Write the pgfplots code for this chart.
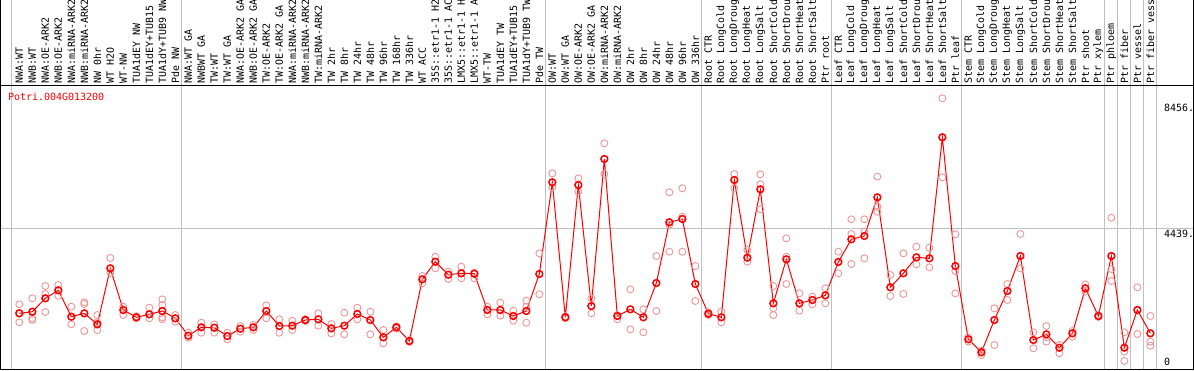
\documentclass[border=0pt]{standalone}
\usepackage{fontspec}
\setmonofont{DejaVu Sans Mono}
\usepackage{pgfplots}
\pgfplotsset{compat=1.18}
\definecolor{rep}{RGB}{238,150,150}
\definecolor{sep}{RGB}{192,192,192}
\begin{document}
\begin{tikzpicture}[x=1bp,y=1bp]
\useasboundingbox (0,0) rectangle (1194,370);
\foreach \k in {-0.62,12.5,40.5,52.5,62.5,72.5,83.5,84.5,85.5,86.5,87.5} {
  \draw[sep, line width=1bp] ({19.3+13*\k},1) -- ({19.3+13*\k},370);
}
\begin{axis}[at={(0.5bp,0.5bp)}, anchor=south west, scale only axis,
  width=1193bp, height=284bp,
  xmin=-1.4462, xmax=90.3231, ymin=-83, ymax=9013,
  axis line style={black, line width=1bp},
  xtick={0,...,87},
  xticklabels={NWA:WT,NWB:WT,NWA:OE-ARK2,NWB:OE-ARK2,NWA:miRNA-ARK2,NWB:miRNA-ARK2,NW 0hr,WT H2O,WT-NW,TUA1dEY NW,TUA1dEY+TUB15,TUA1dY+TUB9 NW,Pde NW,
  NWA:WT GA,NWBWT GA,TW:WT,TW:WT GA,NWA:OE-ARK2 GA,NWB:OE-ARK2 GA,TW:OE-ARK2,TW:OE-ARK2 GA,NWA:miRNA-ARK2,NWB:miRNA-ARK2,TW:miRNA-ARK2,TW 2hr,TW 8hr,TW 24hr,TW 48hr,TW 96hr,TW 168hr,TW 336hr,WT ACC,35S::etr1-1 H2,35S::etr1-1 AC,LMX5::etr1-1 H,LMX5::etr1-1 A,WT-TW,TUA1dEY TW,TUA1dEY+TUB15,TUA1dY+TUB9 TW,Pde TW,
  OW:WT,OW:WT GA,OW:OE-ARK2,OW:OE-ARK2 GA,OW:miRNA-ARK2,OW:miRNA-ARK2,OW 2hr,OW 8hr,OW 24hr,OW 48hr,OW 96hr,OW 336hr,
  Root CTR,Root LongCold,Root LongDroug,Root LongHeat,Root LongSalt,Root ShortCold,Root ShortDrou,Root ShortHeat,Root ShortSalt,Ptr root,
  Leaf CTR,Leaf LongCold,Leaf LongDroug,Leaf LongHeat,Leaf LongSalt,Leaf ShortCold,Leaf ShortDrou,Leaf ShortHeat,Leaf ShortSalt,Ptr leaf,
  Stem CTR,Stem LongCold,Stem LongDroug,Stem LongHeat,Stem LongSalt,Stem ShortCold,Stem ShortDrou,Stem ShortHeat,Stem ShortSalt,Ptr shoot,Ptr xylem,
  Ptr phloem,Ptr fiber,Ptr vessel,Ptr fiber vess},
  xticklabel pos=upper,
  xticklabel style={rotate=90, anchor=west, inner sep=0pt, font=\fontsize{10}{10}\selectfont\ttfamily},
  xticklabel shift=2bp,
  ytick={4439}, yticklabels={}, ymajorgrids, grid style={sep, line width=1bp},
  tick style={draw=none},
  clip=false]
\addplot[only marks, mark=o, mark size=3.5bp, color=rep, mark options={line width=0.9bp}] coordinates {
(0,2005)(0,1429)(0,1717)
(1,2197)(1,1557)(1,1502)
(2,2591)(2,2335)(2,1758)
(3,2623)(3,2280)
(4,1928)(4,1364)
(5,2069)(5,2015)(5,1150)
(6,1662)(6,1182)(6,1429)
(7,3488)(7,3017)
(8,1928)(8,1662)
(9,1620)(9,1560)
(10,1896)(10,1557)
(11,2165)(11,1983)(11,1589)(11,1530)
(12,1662)(12,1448)
(13,1096)(13,935)
(14,1416)(14,1096)
(15,1364)(15,1096)
(16,1096)(16,884)
(17,1310)(17,1128)
(18,1342)(18,1182)
(19,1973)(19,1557)
(20,1525)(20,1096)
(21,1480)(21,1182)
(22,1530)(22,1470)
(23,1717)(23,1320)
(24,1374)(24,1076)
(25,1736)(25,1044)
(26,1896)(26,1525)
(27,1768)(27,1044)
(28,1182)(28,756)
(29,1300)(29,1230)
(30,860)(30,800)
(31,2912)(31,2678)
(32,3530)(32,3158)
(33,2815)(33,3050)
(34,3210)(34,2838)
(35,3020)(35,2838)
(36,1928)(36,1685)
(37,2056)(37,1640)
(38,1800)(38,1480)
(39,2120)(39,1928)(39,1416)
(40,3638)(40,2325)
(41,6201)(41,5753)
(42,1560)(42,1620)
(43,6041)(43,5612)
(44,2197)(44,1717)
(45,7162)(45,6179)
(46,1525)(46,1660)
(47,2486)(47,1204)
(48,1845)(48,1108)
(49,3552)(49,1790)
(50,5593)(50,4555)(50,3690)
(51,5721)(51,4811)(51,3690)
(52,3232)(52,2111)
(53,1749)(53,1662)
(54,1768)(54,1429)
(55,6179)(55,5721)
(56,3744)(56,3370)
(57,6169)(57,5849)(57,5048)
(58,2591)(58,1877)(58,1662)
(59,4119)(59,3530)(59,2655)
(60,2357)(60,1800)
(61,2249)(61,2005)
(62,2518)(62,2037)
(63,3690)(63,2998)
(64,4728)(64,4257)(64,3296)
(65,4728)(65,4331)(65,3478)
(66,6092)(66,5131)(66,4971)
(67,2944)(67,2271)
(68,3638)(68,2335)
(69,3850)(69,3286)
(70,3818)(70,3190)
(71,8603)(71,6073)
(72,4247)(72,3072)(72,2357)
(73,950)(73,808)
(74,520)(74,381)
(75,1877)(75,702)
(76,2655)(76,2143)
(77,4257)(77,3158)
(78,1108)(78,596)
(79,1310)(79,808)(79,950)
(80,702)(80,436)
(81,1150)(81,967)
(82,2646)(82,2409)
(83,1660)(83,1600)
(84,4779)(84,3136)(84,2751)
(85,1108)(85,487)(85,189)
(86,2550)(86,1054)
(87,1630)(87,808)(87,679)
};
\addplot[color=red, line width=1bp, mark=o, mark size=3.4bp, mark options={line width=1.5bp}] coordinates {
(0,1717)(1,1768)(2,2197)(3,2453)(4,1608)(5,1717)(6,1364)(7,3158)(8,1823)(9,1589)
(10,1685)(11,1790)(12,1557)(13,1000)(14,1268)(15,1256)(16,990)(17,1224)(18,1268)(19,1790)
(20,1310)(21,1320)(22,1502)(23,1525)(24,1236)(25,1320)(26,1694)(27,1502)(28,948)(29,1268)
(30,830)(31,2806)(32,3370)(33,2953)(34,2998)(35,2985)(36,1823)(37,1823)(38,1630)(39,1790)
(40,2976)(41,5913)(42,1589)(43,5826)(44,1951)(45,6659)(46,1630)(47,1845)(48,1589)(49,2687)
(50,4632)(51,4737)(52,2655)(53,1704)(54,1589)(55,5987)(56,3498)(57,5689)(58,2037)(59,3446)
(60,2037)(61,2143)(62,2293)(63,3360)(64,4087)(65,4193)(66,5432)(67,2550)(68,2998)(69,3510)
(70,3478)(71,7354)(72,3232)(73,884)(74,468)(75,1502)(76,2431)(77,3552)(78,862)(79,1044)
(80,615)(81,1076)(82,2518)(83,1630)(84,3552)(85,615)(86,1823)(87,1076)
};
\node[anchor=base west, inner sep=0pt, text=red, font=\fontsize{10}{10}\selectfont\ttfamily] at (axis cs:-0.87,8533) {Potri.004G013200};
\node[anchor=north west, inner sep=0pt, font=\fontsize{10}{10}\selectfont\ttfamily] at (axis cs:88.05,8420) {8456.};
\node[anchor=north west, inner sep=0pt, font=\fontsize{10}{10}\selectfont\ttfamily] at (axis cs:88.05,4400) {4439.};
\node[anchor=base west, inner sep=0pt, font=\fontsize{10}{10}\selectfont\ttfamily] at (axis cs:88.05,40) {0};
\end{axis}
\draw[black, line width=1bp] (0.5,0.5) -- (0.5,370) (1193.5,0.5) -- (1193.5,370);
\end{tikzpicture}
\end{document}
